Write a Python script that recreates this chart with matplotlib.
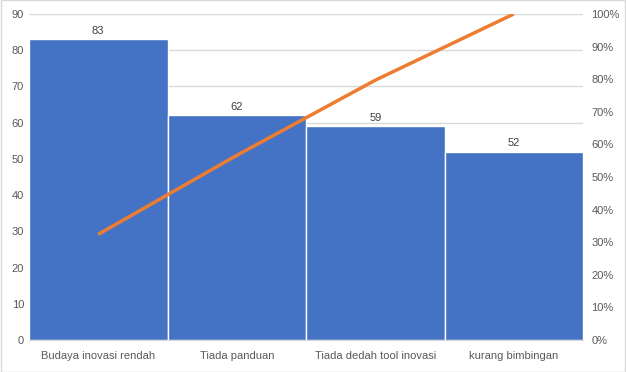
import matplotlib
matplotlib.use("Agg")
import matplotlib.pyplot as plt
from matplotlib.ticker import PercentFormatter
import numpy as np

categories = ["Budaya inovasi rendah", "Tiada panduan", "Tiada dedah tool inovasi", "kurang bimbingan"]
counts = [83, 62, 59, 52]
left_ticks = list(range(0, 91, 10))
right_ticks = list(range(0, 101, 10))

cum_pct = np.cumsum(counts) / np.sum(counts) * 100

plt.rcParams['font.family'] = ['Liberation Sans', 'DejaVu Sans']
txt = '#595959'
fig = plt.figure(figsize=(6.26, 3.72), dpi=100)
fig.patch.set_facecolor('white')
# border
fig.add_artist(plt.Rectangle((0.0008, 0.0013), 0.9984, 0.9974, transform=fig.transFigure,
                             fill=False, edgecolor='#D9D9D9', linewidth=1))
ax = fig.add_axes([29/626, 32/372, 554/626, 326/372])
x = np.arange(len(categories))
bars = ax.bar(x, counts, width=1.0, color='#4472C4', edgecolor='white', linewidth=1, zorder=2)
ax.set_xlim(-0.5, len(categories) - 0.5)
ax.set_ylim(0, 90)
ax.set_yticks(left_ticks)
ax.grid(axis='y', color='#D9D9D9', linewidth=1, zorder=0)
ax.set_axisbelow(True)
for s in ['top', 'left', 'right']:
    ax.spines[s].set_visible(False)
ax.spines['bottom'].set_color('#D9D9D9')
ax.tick_params(axis='both', length=0, labelsize=8, labelcolor=txt)
ax.tick_params(axis='x', pad=8)
ax.set_xticks(x)
ax.set_xticklabels(categories)
for xi, v in zip(x, counts):
    ax.text(xi, v + 1, str(v), ha='center', va='bottom', fontsize=8, color='#404040')

ax2 = ax.twinx()
ax2.plot(x, cum_pct, color='#ED7D31', linewidth=2.5, solid_capstyle='butt', zorder=3)
ax2.set_ylim(0, 100)
ax2.set_yticks(right_ticks)
ax2.yaxis.set_major_formatter(PercentFormatter(decimals=0))
ax2.tick_params(axis='y', length=0, labelsize=8, labelcolor=txt, pad=6)
for s in ax2.spines.values():
    s.set_visible(False)

fig.savefig('out.png', dpi=100)
